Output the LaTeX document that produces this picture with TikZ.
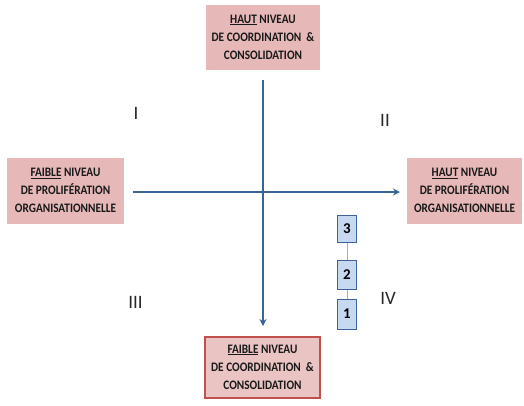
\documentclass[tikz,border=0pt]{standalone}
\usepackage{fontspec}
\setmainfont{Carlito}
\usetikzlibrary{arrows.meta}
\definecolor{pinkfill}{HTML}{E6B9B8}
\definecolor{axisblue}{HTML}{3B6496}
\definecolor{boxblue}{HTML}{C6D9F1}
\definecolor{linkblue}{HTML}{8EB4E3}
\definecolor{redborder}{HTML}{C0504D}
\newcommand\boxtxt[1]{\scalebox{0.87}[1.0]{\begin{tabular}{@{}c@{}}#1\end{tabular}}}
\tikzset{
  x=1bp, y=-1bp,
  pinkbox/.style={fill=pinkfill, draw=none, align=center, inner sep=0pt,
    font=\fontsize{13}{18}\selectfont\bfseries, text=black!90},
  axis/.style={draw=axisblue, line width=2.6bp, -{Stealth[length=7bp,width=7bp]}},
  numbox/.style={fill=boxblue, draw=axisblue, line width=0.9bp, minimum width=19bp,
    font=\fontsize{15}{16}\selectfont\bfseries, inner sep=0pt},
  roman/.style={font=\fontsize{19}{19}\selectfont, text=black!85, inner sep=0pt}
}
\begin{document}
\begin{tikzpicture}
\useasboundingbox (0,0) rectangle (524,405);
\node[pinkbox, minimum width=114bp, minimum height=65bp] (top) at (263,37.5)
  {\boxtxt{\underline{HAUT} NIVEAU\\DE COORDINATION~~\&\\CONSOLIDATION}};
\node[pinkbox, minimum width=117bp, minimum height=66bp] (left) at (65.5,191)
  {\boxtxt{\underline{FAIBLE} NIVEAU\\DE PROLIFÉRATION\\ORGANISATIONNELLE}};
\node[pinkbox, minimum width=115bp, minimum height=66bp] (right) at (464.5,191)
  {\boxtxt{\underline{HAUT} NIVEAU\\DE PROLIFÉRATION\\ORGANISATIONNELLE}};
\node[pinkbox, fill=pinkfill!85, draw=redborder, line width=1.2bp, minimum width=115bp, minimum height=61bp] (bottom) at (262.5,367.5)
  {\boxtxt{\underline{FAIBLE} NIVEAU\\DE COORDINATION~~\&\\CONSOLIDATION}};
\coordinate (vtop) at (263,80);
\coordinate (vbot) at (263,326);
\coordinate (hl) at (133,192);
\coordinate (hr) at (400,192);
\draw[axis] (vtop) -- (vbot);
\draw[axis] (hl) -- (hr);
\node[numbox, minimum height=27bp] (n3) at (347,229) {3};
\node[numbox, minimum height=29bp] (n2) at (347,275) {2};
\node[numbox, minimum height=30bp] (n1) at (347,314) {1};
\draw[linkblue, line width=1bp] (n3) -- (n2);
\draw[linkblue, line width=1bp] (n2) -- (n1);
\node[roman] (r1) at (136,113) {I};
\node[roman] (r2) at (385,120) {II};
\node[roman] (r3) at (135.5,302) {III};
\node[roman] (r4) at (388,298) {IV};
\end{tikzpicture}
\end{document}
